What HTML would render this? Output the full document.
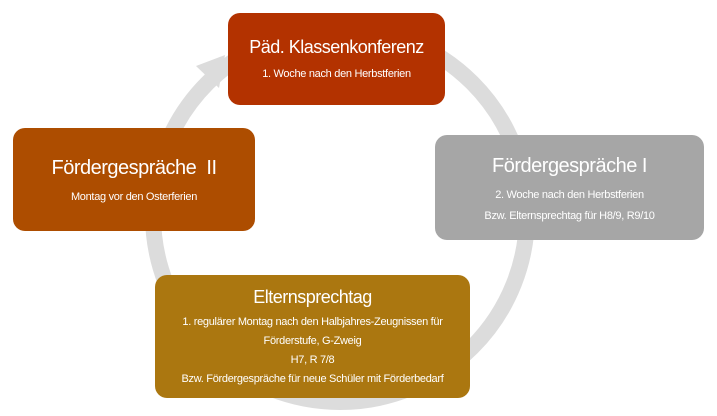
<!DOCTYPE html>
<html><head><meta charset="utf-8"><style>
body{margin:0;width:717px;height:416px;background:#fff;position:relative;overflow:hidden;font-family:"Liberation Sans",sans-serif;}
.b{position:absolute;border-radius:12px;color:#fff;text-align:center;box-sizing:border-box;}
.t{letter-spacing:-0.5px}
.s{font-size:11px;letter-spacing:-0.3px}
</style></head><body>
<svg width="717" height="416" style="position:absolute;left:0;top:0">
<circle cx="340" cy="215" r="187" fill="none" stroke="#dcdcdc" stroke-width="16"/>
<polygon points="196,66 225,55 219,88" fill="#dcdcdc"/>
</svg>
<div class="b" style="left:228px;top:13px;width:217px;height:92px;background:#b33200;padding-top:24px">
<div class="t" style="font-size:18px">Päd. Klassenkonferenz</div>
<div class="s" style="margin-top:10px">1. Woche nach den Herbstferien</div></div>
<div class="b" style="left:13px;top:128px;width:242px;height:103px;background:#ad4d00;padding-top:29px">
<div class="t" style="font-size:20px">Fördergespräche&nbsp; II</div>
<div class="s" style="margin-top:11px">Montag vor den Osterferien</div></div>
<div class="b" style="left:435px;top:135px;width:269px;height:105px;background:#a6a6a6;padding-top:20px">
<div class="t" style="font-size:20px">Fördergespräche I</div>
<div class="s" style="margin-top:11px">2. Woche nach den Herbstferien</div>
<div class="s" style="margin-top:9px">Bzw. Elternsprechtag für H8/9, R9/10</div></div>
<div class="b" style="left:155px;top:275px;width:315px;height:123px;background:#ab7710;padding-top:12px">
<div class="t" style="font-size:18px">Elternsprechtag</div>
<div class="s" style="margin-top:5px;line-height:19px">1. regulärer Montag nach den Halbjahres-Zeugnissen für<br>Förderstufe, G-Zweig<br>H7, R 7/8<br>Bzw. Fördergespräche für neue Schüler mit Förderbedarf</div></div>
</body></html>
